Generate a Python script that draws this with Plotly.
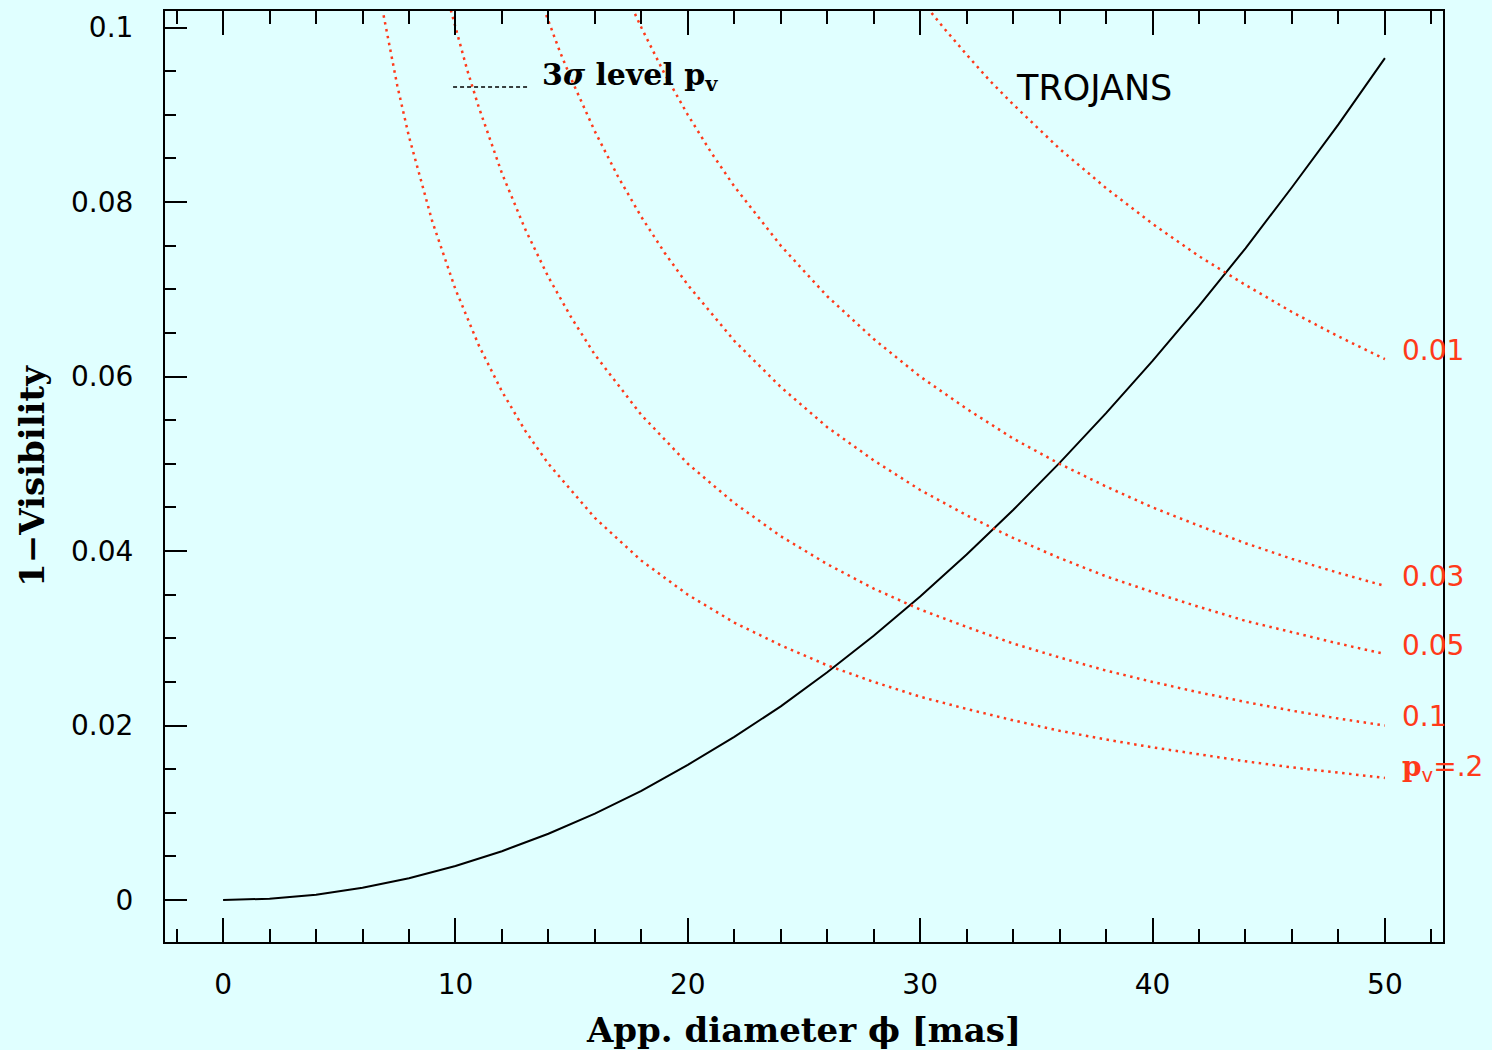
import plotly.graph_objects as go

# ---------------- data ----------------
diam = [0, 2, 4, 6, 8, 10, 12, 14, 16, 18, 20, 22, 24, 26, 28, 30, 32, 34, 36, 38, 40, 42, 44, 46, 48, 50]
one_minus_vis = [0, 0.00015, 0.0006, 0.0014, 0.0025, 0.0039, 0.0056, 0.0076, 0.0099, 0.0125, 0.0155,
                 0.0187, 0.0222, 0.0261, 0.0303, 0.0348, 0.0396, 0.0447, 0.0501, 0.0558, 0.0618,
                 0.0681, 0.0747, 0.0817, 0.0889, 0.0965]

x_pv02 = [6.85, 7.5, 8, 9, 10, 11, 12, 13, 14, 16, 18, 20, 22, 24, 26, 28, 30, 32, 34, 36, 38, 40, 42, 44, 46, 48, 50]
y_pv02 = [0.1022, 0.0933, 0.0875, 0.0778, 0.0700, 0.0636, 0.0583, 0.0538, 0.0500, 0.0438, 0.0389, 0.0350,
          0.0318, 0.0292, 0.0269, 0.0250, 0.0233, 0.0219, 0.0206, 0.0194, 0.0184, 0.0175, 0.0167, 0.0159,
          0.0152, 0.0146, 0.0140]

x_pv01 = [9.8, 10.5, 11, 12, 13, 14, 15, 16, 18, 20, 22, 24, 26, 28, 30, 32, 34, 36, 38, 40, 42, 44, 46, 48, 50]
y_pv01 = [0.1020, 0.0952, 0.0909, 0.0833, 0.0769, 0.0714, 0.0667, 0.0625, 0.0556, 0.0500, 0.0455, 0.0417,
          0.0385, 0.0357, 0.0333, 0.0313, 0.0294, 0.0278, 0.0263, 0.0250, 0.0238, 0.0227, 0.0217, 0.0208, 0.0200]

x_pv005 = [13.8, 14.5, 15, 16, 17, 18, 19, 20, 22, 24, 26, 28, 30, 32, 34, 36, 38, 40, 42, 44, 46, 48, 50]
y_pv005 = [0.1022, 0.0972, 0.0940, 0.0881, 0.0829, 0.0783, 0.0742, 0.0705, 0.0641, 0.0588, 0.0542, 0.0504,
           0.0470, 0.0441, 0.0415, 0.0392, 0.0371, 0.0353, 0.0336, 0.0320, 0.0307, 0.0294, 0.0282]

x_pv003 = [17.6, 18, 19, 20, 21, 22, 24, 26, 28, 30, 32, 34, 36, 38, 40, 42, 44, 46, 48, 50]
y_pv003 = [0.1023, 0.1000, 0.0947, 0.0900, 0.0857, 0.0818, 0.0750, 0.0692, 0.0643, 0.0600, 0.0563, 0.0529,
           0.0500, 0.0474, 0.0450, 0.0429, 0.0409, 0.0391, 0.0375, 0.0360]

x_pv001 = [30.3, 31, 32, 33, 34, 36, 38, 40, 42, 44, 46, 48, 50]
y_pv001 = [0.1023, 0.1000, 0.0969, 0.0939, 0.0912, 0.0861, 0.0816, 0.0775, 0.0738, 0.0705, 0.0674, 0.0646, 0.0620]

curve_labels = ["0.01", "0.03", "0.05", "0.1",
                "<span style='font-family:DejaVu Serif'><b>p</b></span><sub>v</sub>=.2"]

x_ticks = [0, 10, 20, 30, 40, 50]
y_ticks = [0, 0.02, 0.04, 0.06, 0.08, 0.1]
y_tick_text = ["0", "0.02", "0.04", "0.06", "0.08", "0.1"]

# ---------------- figure ----------------
RED = "#ff3a1a"
BG = "#e0ffff"

fig = go.Figure()

fig.add_trace(go.Scatter(x=diam, y=one_minus_vis, mode="lines",
                         line=dict(color="black", width=2), showlegend=False))

red_curves = [(x_pv001, y_pv001), (x_pv003, y_pv003), (x_pv005, y_pv005),
              (x_pv01, y_pv01), (x_pv02, y_pv02)]
for (xs, ys), lab in zip(red_curves, curve_labels):
    fig.add_trace(go.Scatter(x=xs, y=ys, mode="lines",
                             line=dict(color=RED, width=2.5, dash="2.5px,4.5px"),
                             showlegend=False))
    fig.add_annotation(x=xs[-1], y=ys[-1], xref="x", yref="y", text=lab,
                       showarrow=False, xanchor="left", yanchor="middle",
                       xshift=15, yshift=9,
                       font=dict(family="DejaVu Sans", size=28, color=RED))

# legend key: dashed line + label
fig.add_shape(type="line", xref="paper", yref="paper",
              x0=0.2254, x1=0.2833, y0=0.9184, y1=0.9184,
              line=dict(color="black", width=1.6, dash="4px,3px"))
fig.add_annotation(xref="paper", yref="paper", x=0.2935, y=0.9295,
                   text="<b>3<i>σ</i> level p<sub>v</sub></b>", showarrow=False,
                   xanchor="left", yanchor="middle",
                   font=dict(family="DejaVu Serif", size=30, color="black"))
fig.add_annotation(xref="paper", yref="paper", x=0.664, y=0.917,
                   text="TROJANS", showarrow=False,
                   xanchor="left", yanchor="middle",
                   font=dict(family="DejaVu Sans", size=35, color="black"))

fig.update_layout(
    width=1492, height=1050,
    paper_bgcolor=BG, plot_bgcolor=BG,
    margin=dict(l=165, r=49, t=11, b=108, autoexpand=False),
    showlegend=False,
)

fig.update_xaxes(
    range=[-2.5, 52.5], showgrid=False, zeroline=False, automargin=False,
    showline=True, linecolor="black", linewidth=2, mirror="ticks",
    ticks="inside", ticklen=24, tickwidth=1.8, tickcolor="black",
    tickvals=x_ticks, ticklabelstandoff=16,
    tickfont=dict(family="DejaVu Sans", size=28, color="black"),
    minor=dict(dtick=2, tick0=0, ticks="inside", ticklen=13, tickwidth=1.8, tickcolor="black"),
    title=dict(text="<b>App. diameter ϕ [mas]</b>", standoff=20,
               font=dict(family="DejaVu Serif", size=34, color="black")),
)
fig.update_yaxes(
    range=[-0.00481, 0.1019], showgrid=False, zeroline=False, automargin=False,
    showline=True, linecolor="black", linewidth=2, mirror=True,
    ticks="inside", ticklen=22, tickwidth=1.8, tickcolor="black",
    tickvals=y_ticks, ticktext=y_tick_text, ticklabelstandoff=24,
    tickfont=dict(family="DejaVu Sans", size=28, color="black"),
    minor=dict(dtick=0.005, tick0=0, ticks="inside", ticklen=11, tickwidth=1.8, tickcolor="black"),
    title=dict(text="<b>1−Visibility</b>", standoff=16,
               font=dict(family="DejaVu Serif", size=34, color="black")),
)

fig.write_html("out.html")
